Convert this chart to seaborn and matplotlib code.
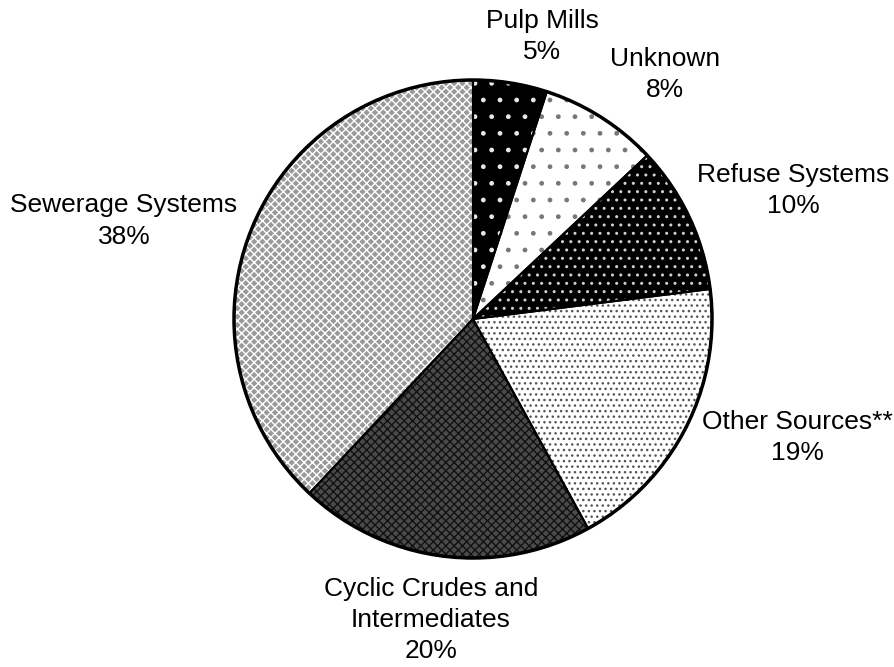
import matplotlib
matplotlib.use("Agg")
import matplotlib.pyplot as plt
import seaborn as sns

# Data
sources = ["Pulp Mills", "Unknown", "Refuse Systems", "Other Sources**",
           "Cyclic Crudes and\nIntermediates", "Sewerage Systems"]
shares = [5, 8, 10, 19, 20, 38]

# Styling (grey-scale patterns like the original print chart)
face_colors = ["#000000", "#ffffff", "#000000", "#ffffff", "#4a4a4a", "#9a9a9a"]
hatch_colors = ["#e8e8e8", "#777777", "#d0d0d0", "#555555", "#111111", "#ffffff"]
hatches = [".", ".", "..", "...", "xxxx", "xxxx"]

# label anchor points (in pie-radius units)
label_pos = [(0.289, 1.184), (0.803, 1.021), (1.339, 0.536),
             (1.356, -0.494), (-0.176, -1.259), (-1.460, 0.410)]

sns.set_theme(style="white")
plt.rcParams["font.family"] = ["Liberation Sans", "DejaVu Sans"]
plt.rcParams["hatch.linewidth"] = 1.0

fig = plt.figure(figsize=(8.94, 6.67), dpi=100)
ax = fig.add_axes([0, 0, 1, 1])

wedges, _ = ax.pie(shares, startangle=90, counterclock=False, radius=1,
                   wedgeprops=dict(linewidth=0))
for w, fc, hc, h in zip(wedges, face_colors, hatch_colors, hatches):
    w.set_facecolor(fc)
    w.set_edgecolor(hc)
    w.set_hatch(h)
    w.set_linewidth(0)

# black outlines on top
outline, _ = ax.pie(shares, startangle=90, counterclock=False, radius=1,
                    wedgeprops=dict(fill=False, edgecolor="black", linewidth=1.5))
ax.add_patch(plt.Circle((0, 0), 1, fill=False, edgecolor="black", linewidth=2.5))

for name, val, (x, y) in zip(sources, shares, label_pos):
    ax.text(x, y, f"{name}\n{val}%", ha="center", va="center",
            fontsize=19, linespacing=1.37, color="black")

ax.set_xlim(-473 / 239, (894 - 473) / 239)
ax.set_ylim(-(667 - 319) / 239, 319 / 239)
ax.set_aspect("equal")
ax.axis("off")

fig.savefig("out.png", dpi=100)
